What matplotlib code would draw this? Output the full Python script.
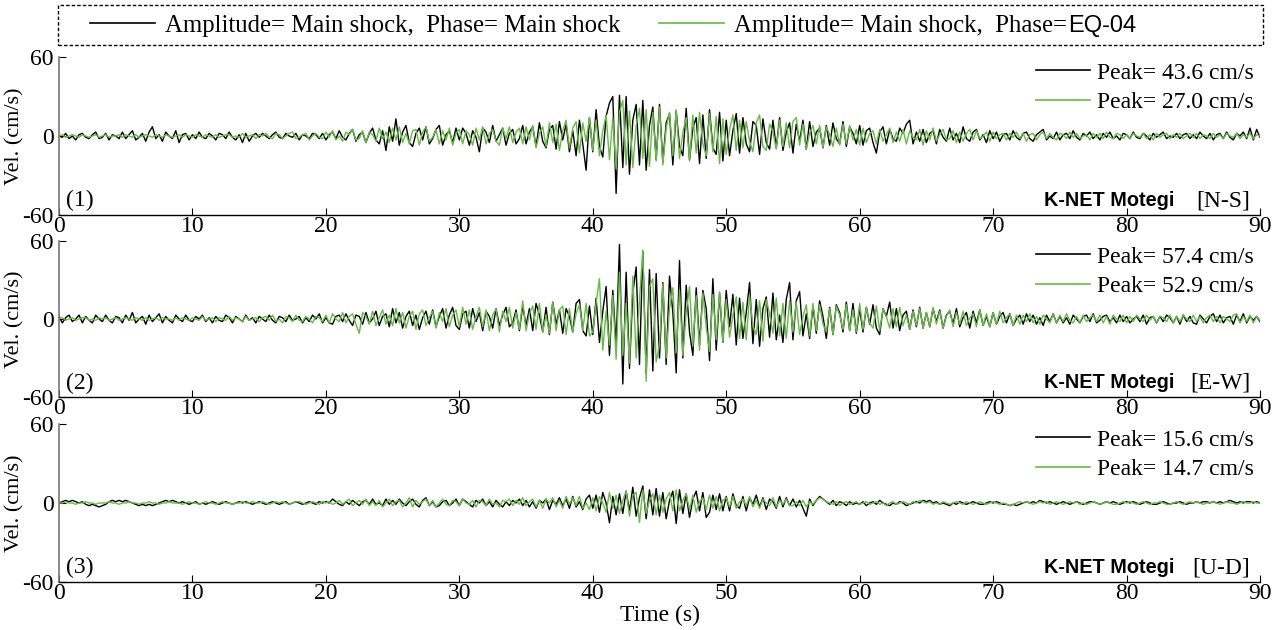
import numpy as np
import matplotlib
matplotlib.use("Agg")
import matplotlib.pyplot as plt
from matplotlib.lines import Line2D
from matplotlib.patches import Rectangle

# ---------------- data (cm/s, sampled every 0.25 s from 0 to 90 s) ----------------
components = ["N-S", "E-W", "U-D"]
series_labels = ["Amplitude= Main shock,  Phase= Main shock",
                 "Amplitude= Main shock,  Phase="]
phase_tag = "EQ-04"
station = "K-NET Motegi"
xticks = [0, 10, 20, 30, 40, 50, 60, 70, 80, 90]
yticks = [-60, 0, 60]

ns_main = [
    0, -1, 2, -2, 0, -3, 1, 2, -1, -2, 1, 3, -2, -1, 2, -3, 1, 0, -2, 3,
    -2, 1, 4, -3, -1, 2, -4, 3, 7, -2, 1, -4, 3, 0, -2, 4, -5, 1, 2, -3,
    1, -2, 3, -1, -2, 2, 0, -3, 2, 1, -2, 3, -1, -3, 1, -5, 2, -4, 0, 2,
    -1, 2, 0, -2, 1, 3, -1, -2, 2, 0, -1, 2, -3, 1, 0, -2, 2, 1, -2, 2,
    -3, 1, 3, -2, 4, -1, -3, 2, 5, -4, 1, 3, -5, 2, 6, -3, -6, 4, -11, 7,
    -4, 13, -7, 3, 8, -5, -8, 2, 6, -3, 7, -6, -2, 5, 8, -7, 1, 4, -5, 6,
    -3, 6, 2, -7, 4, -1, -12, 6, 3, -5, 8, -4, 1, 6, -7, 2, 5, -6, -2, 8,
    -6, 3, 7, -8, 10, -4, -9, 5, 8, -10, 11, -3, 9, -12, 4, -15, 12, -6, -26, 14,
    -12, 20, -8, -16, 15, 25, 30, -43.6, 31, -24, 30, -29, 12, 24, -22, 27, -26, 8, 22, -18,
    24, -20, 10, 17, -22, 19, -8, -15, 21, -18, 6, 14, -21, 16, -17, 20, -9, -14, 18, -19,
    12, -15, 4, 17, -13, 14, -6, -12, 11, 8, -14, 13, -5, -10, 12, -9, 14, -11, 3, 10,
    -13, 9, -4, 12, -10, 11, -8, 3, 6, -9, 8, -7, 10, -2, -6, 11, -8, 7, 2, -6,
    8, -7, 4, 6, -5, -13, 3, 7, -6, 5, -2, -4, 6, 2, 9, 12, -6, 3, -4, 5,
    -5, 2, 4, -6, 5, -1, -4, 6, -3, 2, -5, 7, -2, -4, 3, 5, -3, 1, -5, 4,
    -2, 3, -4, 1, 2, -3, 4, -1, -3, 2, 3, -2, -4, 1, 3, 5, -3, 0, -2, 3,
    -3, 1, 2, -2, 4, -1, -3, 2, 0, 3, -2, 1, -3, 2, -1, 3, -2, 0, -3, 2,
    1, -2, 3, -1, -2, 2, 0, -3, 2, -1, 1, 3, -2, 0, -1, 2, -2, 1, 2, -2,
    1, -2, 3, 0, -2, 2, -3, 1, 2, -2, 3, -1, -3, 2, 0, 3, -2, 6, -3, 5,
    -1]

ns_eq04 = [
    0, 1, -1, 0, 1, 0, -1, 1, 0, -1, 0, 1, -1, 0, 1, -1, 0, 0, 1, -1,
    1, 0, -1, 1, -1, 0, 1, 0, -1, 1, 0, -1, 1, 0, -1, 0, 1, -1, 1, 0,
    -1, 1, 0, -1, 1, 0, -1, 1, -1, 0, 1, 1, -1, 0, -1, 2, -1, 0, 1, -2,
    1, 0, 2, -1, -2, 2, 1, -2, 0, 2, 3, -2, -1, 1, 2, -3, 0, 2, -1, -2,
    3, -1, 4, -3, 0, -4, 3, 1, 5, -3, -2, 4, -5, 3, 1, -4, 6, -2, 3, -5,
    6, -3, 7, -5, 2, -6, 4, 5, -7, 3, 7, -4, -1, 5, -6, 4, -3, 6, -7, 2,
    5, -6, 4, 1, -7, 6, -3, 7, -6, 2, 5, -4, -7, 6, -2, 7, -5, 3, 6, -6,
    7, -3, 8, -9, 2, 7, -8, 10, -5, 9, -11, 4, 12, -9, 6, 11, -13, 10, -4, 14,
    -11, 12, -15, 4, 16, -18, 14, -25, 18, 27.0, -22, 19, -24, 8, 21, -17, 20, -23, 18, -19,
    22, -22, 6, 18, -15, 20, -17, 3, 14, -19, 16, -13, 18, -6, -15, 17, -12, 15, -21, 13,
    -14, 5, 16, -11, 12, -9, 11, -4, -12, 10, 16, -8, -11, 9, 3, -10, 12, -8, 10, -9,
    11, 14, -7, 9, -10, 2, 8, -6, 8, -9, 7, 1, -8, 6, -7, 9, -6, 8, -3, 5,
    -7, 6, -5, 2, 4, -6, 5, -4, 1, 6, -5, 3, -4, 5, -6, 4, -1, -3, 5, -7,
    4, -3, 6, -4, 1, 5, -3, -2, 4, -5, 3, -4, 2, 5, -3, 4, -2, 0, 3, -4,
    3, -2, 1, 2, -3, 2, -1, 3, -2, 2, -4, 1, 2, -3, 1, 3, -2, 2, -1, -3,
    2, 1, -2, 3, -1, 2, -2, 0, 1, -3, 2, -1, 2, -2, 3, -1, -2, 2, 1, -2,
    1, -2, 2, 0, -1, 2, -2, 1, -3, 2, -1, 1, 2, -2, 1, -1, 2, -2, 0, 2,
    -1, 2, -2, 1, 0, -2, 2, -1, 1, -2, 2, 0, -1, 2, -2, 1, -1, 2, -2, 1,
    0]

ew_main = [
    2, -3, 1, 3, -2, 0, 3, -3, 2, -1, -3, 3, 0, -2, 3, -1, -3, 2, 1, -3,
    3, -1, 5, -3, 0, 2, -4, 3, -2, 1, 4, -3, 2, -1, -3, 3, 0, -2, 3, -1,
    -2, 2, 0, 3, -2, 1, -3, 2, -1, -2, 3, 1, -3, 2, 0, -2, 3, -1, 1, -3,
    2, 0, -2, 3, -1, -3, 2, 1, -2, 3, -1, 0, 2, -3, 1, -2, 3, 0, 4, -3,
    1, -3, -4, 2, 3, -2, 4, -1, -5, 3, 2, -4, 5, -3, 0, 6, -5, 2, 4, -6,
    8, -3, 5, -7, 2, 6, -5, 3, -8, 1, 6, -4, 7, -6, 2, 8, -7, 3, 9, -5,
    -8, 4, 6, -7, 8, -2, 5, -9, 6, 2, -7, 8, -5, 3, 9, -6, -3, 7, -9, 10,
    -5, 8, -9, 12, 3, -10, 9, -12, 13, -4, 7, -11, 8, 2, -10, 12, 15, -9, -13, 10,
    -12, 16, -18, 6, 25, -28, 22, -20, 57.4, -50, 36, -38, 20, 40, -35, 52, -42, 38, -40, 35,
    -30, 28, -35, 33, 5, -41.5, 45, -30, 26, -10, -28, 24, -20, 22, 8, -32, 31, -24, 20, -18,
    22, -6, 19, -20, 16, -15, 5, 28, -19, 15, -21, 8, 17, -14, 20, -16, 3, -18, 15, 28,
    -16, 14, 21, -13, 4, -15, 10, -11, 14, 2, -15, 9, -12, 11, 5, -10, 13, -9, 12, -11,
    8, -10, 9, -4, 11, -7, -12, 8, 2, 13, -7, 8, -9, 3, 6, -8, 7, -6, 9, -7,
    5, -6, 8, -2, 7, -7, 3, 6, -4, 8, -6, 1, 5, -7, 6, -3, 7, -5, 2, -6,
    5, -4, 2, 5, -3, 4, -5, 0, 3, -4, 4, -2, 3, -4, 1, -5, 3, -2, 4, -3,
    2, -3, 1, -4, 3, 0, -3, 2, 3, -2, 4, -3, -1, 2, 3, -2, 1, -3, 3, -2,
    2, -3, 0, 2, -2, 3, -4, 1, 2, -3, 2, -2, 3, 1, -3, 2, -4, 3, -2, 2,
    -3, -4, 3, 0, -3, 2, 4, -2, 3, -3, 1, 2, -4, 3, -2, 4, -3, 2, -1, 2,
    -2]

ew_eq04 = [
    0, 1, -1, 0, 1, -1, 0, 1, 1, -1, 0, -1, 1, 0, 1, -1, 0, 1, -1, 0,
    1, 0, -1, 1, 0, -1, 1, -1, 0, 1, -1, 1, 0, 0, -1, 1, -1, 1, 0, -1,
    1, 0, -1, 2, -1, 0, 1, -2, 1, 0, -1, 2, -1, 1, 0, -2, 2, -1, 0, 1,
    -2, 1, 2, -1, 3, -2, 0, -3, 2, 1, -2, 3, -1, -2, 2, 0, -3, 2, 1, -2,
    3, -3, 4, 0, -2, 5, -3, 2, 4, -4, -11, 5, 2, -4, 6, -5, 1, 7, -4, 3,
    -5, 8, -3, 5, -7, 2, 6, -8, 4, 7, -5, 1, 6, -7, 5, -2, 8, -6, 3, 7,
    -6, 9, -4, 7, -8, 2, 9, -6, 7, -9, 3, 8, -10, 6, -2, 9, -7, 5, -8, 14,
    -9, 4, 10, -8, 12, -10, 3, -11, 13, -9, 7, 10, -12, 8, -10, 4, 11, -9, 12, -13,
    -10, 12, 31, -24, 6, -20, 18, -31, 36, -28, 12, -34, 33, -30, 15, 52.9, -48, 25, 31, -33,
    -20, 27, -30, 8, 24, -26, 22, -28, 5, 25, -21, 18, -24, 20, -6, -25, 19, -16, 21, -18,
    15, -14, 3, 17, -15, 13, -16, 18, -5, -12, 14, -17, 15, 4, -11, 16, -13, 12, -15, 14,
    -10, 13, -12, 2, 11, -13, 12, -9, 11, -4, -10, 8, -12, 10, 3, -8, 11, -9, 7, -10,
    12, -8, 9, -3, -7, 10, -9, 8, 2, -7, 8, -6, 9, -5, 3, -8, 6, -5, 8, -7,
    5, -6, 9, -4, 6, -7, 2, 7, -6, 5, -4, 6, -5, 1, 4, -6, 7, -5, 4, -6,
    5, -4, 6, -3, 1, 4, -5, 3, -4, 3, -2, 4, -3, 2, -4, 3, 0, -3, 4, -3,
    3, -2, 4, -1, -3, 2, -3, 3, -2, 1, 3, -2, 3, -3, 2, -4, 3, 0, -2, 3,
    -3, 2, -2, 3, 0, -2, 3, -1, 2, -3, 2, 1, -2, 3, -3, 2, -2, 3, 0, -2,
    3, -2, 2, -3, 1, 3, -2, 2, -3, 2, 0, -2, 3, 4, -3, 2, -2, 3, -3, 2,
    -1]

ud_main = [
    0, 1, 2, 1, 2, 1, 0, 1, -1, -2, -1, -2, -3, -2, -1, 1, 2, 1, 2, 1,
    2, 1, 0, -1, -2, -1, -2, -1, -2, -1, 0, 1, 2, 1, 2, 1, 0, 1, 0, -1,
    0, 1, -1, 0, -1, 0, 1, 0, -1, 0, 1, 0, -1, 0, 1, 0, 1, 0, -1, 0,
    1, 0, -1, 0, 1, 0, -1, 0, 1, -1, 0, 1, 0, -1, 0, 1, 0, -1, 1, 0,
    1, 0, 3, 1, -1, -2, 1, -1, 2, 0, -2, 1, 2, -1, 3, -1, 0, -2, 3, -1,
    2, -1, 3, 0, -2, 1, 3, -1, -3, 2, 4, -2, 1, -3, -2, 1, 2, -2, 0, 3,
    -2, 3, 1, -1, -3, 2, 0, 3, -2, 1, -3, 2, -1, -3, 1, -2, 2, 0, 3, -2,
    2, -3, 1, -4, 2, 0, 3, -5, 2, -1, 4, -2, 3, -4, 5, -3, 1, -5, 3, 6,
    -4, 6, -7, 8, 0, -15, 5, -9, 7, -8, 9, -6, 12, -10, 4, 13, -12, 10, -9, 11,
    -10, 8, -12, 2, 9, -15.6, 10, -8, 7, -11, 3, 9, -6, 8, -11, -7, 6, -5, 7, -6,
    5, -6, 7, -2, -4, 5, -6, 4, -1, 6, -3, 4, -5, 3, 1, -4, 5, -3, 4, -2,
    3, -3, 2, -4, -10, 3, -2, 2, 5, 3, 1, -1, 2, -2, 1, 0, -2, 1, -1, 0,
    -1, 1, -2, 0, 1, -1, 2, 0, -1, -2, 0, -1, 1, 0, -2, -1, 0, 1, 0, 2,
    1, 2, 0, 1, -1, 0, -1, -2, 0, -1, 1, 0, -1, 0, 1, 0, -1, -1, 0, 1,
    0, 1, 0, -1, -1, -2, -1, -2, -1, 0, 1, 0, 1, 0, 2, 1, 0, 1, 0, -1,
    0, 1, 0, -1, 0, 1, 0, -1, 0, 1, 1, 0, -1, 0, 1, 0, 1, 0, -1, 0,
    1, 0, 1, 0, -1, 0, 1, 0, -1, -1, 0, 1, 0, -1, 0, 0, 1, 0, -1, 0,
    0, 1, 0, 1, 1, 0, 1, 0, 1, 0, 1, 2, 1, 0, 1, 0, 1, 1, 0, 1,
    0]

ud_eq04 = [
    0, 0, 1, 0, 0, -1, 0, 0, 1, 0, 0, -1, 0, 0, 0, 1, 0, 0, -1, 0,
    0, 1, 0, 0, -1, 0, 0, 1, 0, 0, -1, 0, 0, 1, 0, 0, 0, -1, 0, 1,
    0, 0, -1, 0, 1, 0, 0, -1, 0, 1, 0, 0, -1, 0, 0, 1, 0, 0, 1, 0,
    0, 1, 0, -1, 0, 1, 0, 1, 0, -1, 0, 1, 1, 0, -1, 0, 1, 0, -1, 1,
    0, 1, -1, 0, 2, -1, 1, 3, -2, 0, 2, -1, 3, -2, 1, -2, 2, -3, 0, 3,
    -2, 1, 2, -3, 0, 4, -3, 2, -1, 1, 3, -2, 2, -3, 0, 3, -1, -2, 2, 1,
    -2, 3, 0, -1, 2, -3, 2, 1, -2, 3, -1, 0, -3, 2, 1, 3, -2, 2, -1, 4,
    -2, 1, 3, -3, 2, -4, 3, 0, 4, -3, 2, -4, 5, -1, 4, -2, 5, -4, 0, -5,
    4, -6, 5, 0, -7, 8, -4, 6, -8, 2, 9, -10, 6, 8, -14.7, 10, -8, 2, 7, -9,
    6, -7, 3, 8, -6, 10, -6, 2, 7, -5, 6, -7, 1, 4, -5, 6, -4, 5, -6, 2,
    4, -3, 5, -4, 1, 3, -2, 5, -3, 2, -4, 3, 0, -2, 4, -3, 2, -1, 3, -2,
    -2, 1, -2, 2, -3, 1, -1, 2, 4, 3, 1, 0, -1, 1, -2, 0, 1, -1, 0, 1,
    -1, 0, 1, -1, 0, 1, -1, 0, -2, 0, 1, -1, 0, 1, 0, -1, 1, 0, 2, 1,
    0, 1, -1, 0, -1, 1, 0, -1, 0, 1, 0, -1, 1, 0, -1, 0, 1, 0, -1, 0,
    1, 0, -1, 0, -1, -2, -1, 0, 1, 0, 1, 0, -1, 0, 1, 0, 1, -1, 0, 1,
    0, -1, 0, 1, 0, 1, -1, 0, -1, 0, 1, 0, -1, 0, 1, 0, -1, -1, 0, 1,
    0, 1, 0, -1, 0, 1, 0, -1, 0, 0, 1, 0, -1, -1, 0, 1, 0, -1, 0, 1,
    0, 1, 0, -1, 0, 0, 1, 0, -1, 0, 1, 0, 0, -1, 0, 1, 0, 0, 1, 0,
    0]

main_series = [ns_main, ew_main, ud_main]
eq04_series = [ns_eq04, ew_eq04, ud_eq04]

# ---------------- style ----------------
SERIF = "Liberation Serif"
SANS = "Liberation Sans"
BLACK = "#000000"
GREEN = "#66bb44"
FS = 17

plt.rcParams["font.family"] = SERIF
plt.rcParams["axes.unicode_minus"] = False
W, H = 1285, 630
fig = plt.figure(figsize=(W / 100, H / 100), dpi=100)

def fx(px):
    return px / W

def fy(py):
    return 1 - py / H

panel_px = [(57, 215), (241, 397), (424, 582)]
left_px, right_px = 59, 1260

axes = []
for i, (top, bot) in enumerate(panel_px):
    ax = fig.add_axes([fx(left_px), fy(bot), fx(right_px - left_px), (bot - top) / H])
    axes.append(ax)
    ym = np.asarray(main_series[i], dtype=float)
    yg = np.asarray(eq04_series[i], dtype=float)
    tm = np.linspace(0, 90, len(ym))
    tg = np.linspace(0, 90, len(yg))
    l1, = ax.plot(tm, ym, color=BLACK, lw=1.0)
    l2, = ax.plot(tg, yg, color=GREEN, lw=1.0)
    ax.set_xlim(0, 90)
    ax.set_ylim(-60, 60)
    ax.set_xticks(xticks)
    ax.set_yticks(yticks)
    ax.tick_params(axis="both", direction="in", length=5, width=0.8, labelsize=FS)
    ax.tick_params(axis="x", pad=1)
    ax.tick_params(axis="y", pad=4)
    for s in ["top", "right"]:
        ax.spines[s].set_visible(False)
    ax.spines["left"].set_color("#777777")
    ax.spines["left"].set_linewidth(1.2)
    ax.spines["bottom"].set_color(BLACK)
    ax.spines["bottom"].set_linewidth(1.0)
    ax.set_ylabel("Vel. (cm/s)", fontsize=16, va="center")
    ax.yaxis.set_label_coords((15 - left_px) / (right_px - left_px), 0.5)
    ax.patch.set_alpha(0)

    pk_m = np.max(np.abs(ym))
    pk_g = np.max(np.abs(yg))
    leg = ax.legend([l1, l2], [f"Peak= {pk_m:.1f} cm/s", f"Peak= {pk_g:.1f} cm/s"],
                    loc="upper right", bbox_to_anchor=(1.003, 1.027), frameon=False,
                    fontsize=FS, handlelength=2.3, handletextpad=0.3,
                    labelspacing=0.34, borderaxespad=0.0)
    for h in leg.get_lines():
        h.set_linewidth(1.2)

    ax.text(0.006, 0.09, f"({i + 1})", transform=ax.transAxes, fontsize=FS,
            ha="left", va="center")
    ax.text(0.929, 0.09, station, transform=ax.transAxes, fontsize=14.3,
            family=SANS, weight="bold", ha="right", va="center")
    ax.text(0.9917, 0.09, f"[{components[i]}]", transform=ax.transAxes, fontsize=FS,
            ha="right", va="center")

axes[-1].set_xlabel("Time (s)", fontsize=FS, labelpad=0)

# ---------------- top legend in a dashed box ----------------
box = Rectangle((fx(58), fy(45)), fx(1263 - 58), (45 - 5) / H, transform=fig.transFigure,
                fill=False, edgecolor=BLACK, linewidth=1.0, linestyle=(0, (2.5, 1.5)))
fig.patches.append(box)

TFS = 17.8
h1 = Line2D([], [], color=BLACK, lw=1.2)
h2 = Line2D([], [], color=GREEN, lw=1.2)
top_leg = fig.legend([h1, h2], series_labels, loc="center left",
                     bbox_to_anchor=(fx(80), fy(26)), ncol=2, frameon=False,
                     fontsize=TFS, handlelength=2.63, handletextpad=0.4,
                     columnspacing=1.55, borderaxespad=0)

fig.canvas.draw()
renderer = fig.canvas.get_renderer()
bb = top_leg.get_texts()[1].get_window_extent(renderer)
fig.text(bb.x1 / W + 0.001, (bb.y0 + bb.y1) / 2 / H, phase_tag, family=SANS,
         fontsize=TFS - 0.8, ha="left", va="center")

fig.savefig("out.png", dpi=100)
